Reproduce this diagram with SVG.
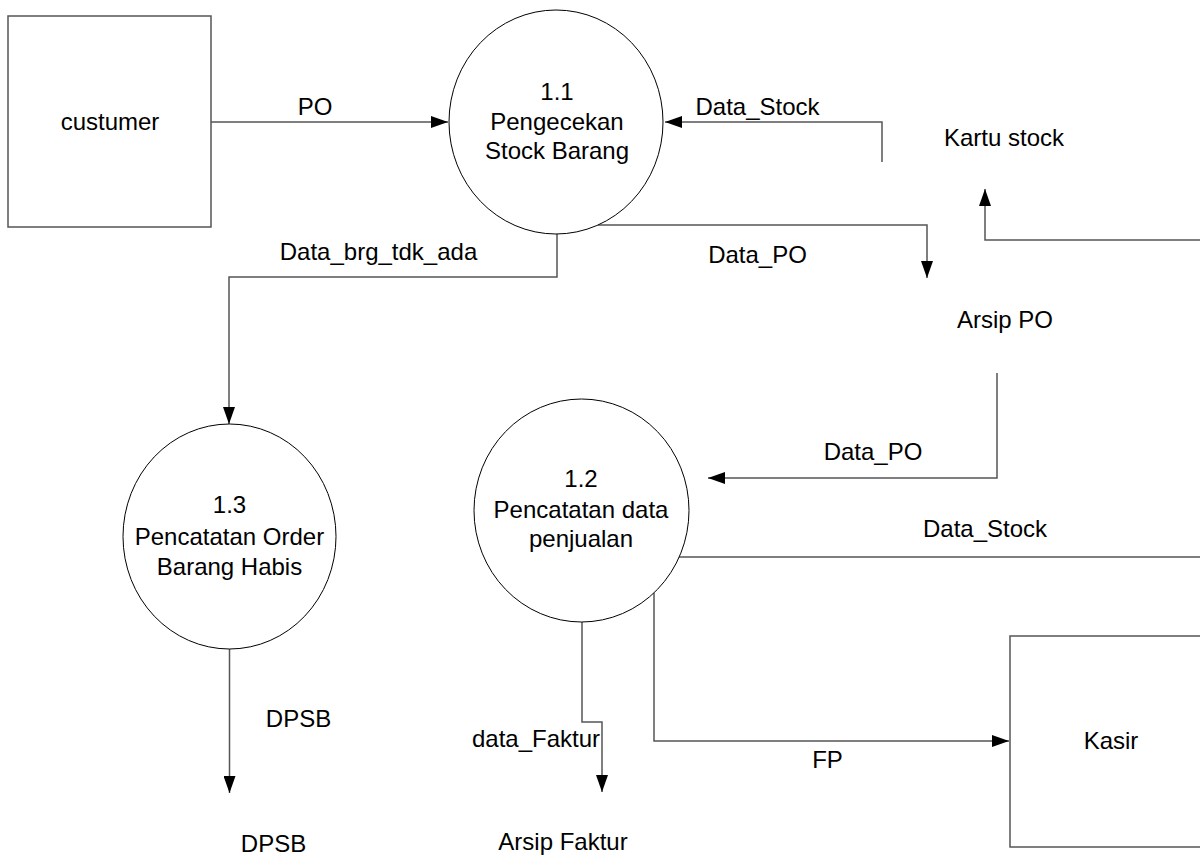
<svg xmlns="http://www.w3.org/2000/svg" width="1200" height="857" viewBox="0 0 1200 857">
<defs>
<style>
.t{font-family:"Liberation Sans",Arial,sans-serif;font-size:24px;fill:#000;text-anchor:middle}
.box{fill:#fff;stroke:#555;stroke-width:1.5}
.proc{fill:#fff;stroke:#000;stroke-width:1}
.ln{fill:none;stroke:#555;stroke-width:1.5}
</style>
<marker id="ah" markerUnits="userSpaceOnUse" markerWidth="17" markerHeight="12" refX="17" refY="6" orient="auto">
<path d="M0,0 L17,6 L0,12 z" fill="#000"/>
</marker>
</defs>
<rect width="1200" height="857" fill="#fff"/>

<g id="connectors">
<path class="ln" d="M211,122 H448" marker-end="url(#ah)"/>
<path class="ln" d="M882,162 V122 H665" marker-end="url(#ah)"/>
<path class="ln" d="M598,225 H927 V278" marker-end="url(#ah)"/>
<path class="ln" d="M1200,240 H985 V189" marker-end="url(#ah)"/>
<path class="ln" d="M557,234 V277 H229 V424" marker-end="url(#ah)"/>
<path class="ln" d="M997,373 V478 H708" marker-end="url(#ah)"/>
<path class="ln" d="M679,557 H1200"/>
<path class="ln" d="M229.5,649 V793" marker-end="url(#ah)"/>
<path class="ln" d="M582,622 V722 H602 V792" marker-end="url(#ah)"/>
<path class="ln" d="M654,593 V741 H1009" marker-end="url(#ah)"/>
<text class="t" x="315" y="115">PO</text>
<text class="t" x="757.5" y="115">Data_Stock</text>
<text class="t" x="378.5" y="260">Data_brg_tdk_ada</text>
<text class="t" x="757.5" y="263">Data_PO</text>
<text class="t" x="873" y="460">Data_PO</text>
<text class="t" x="985" y="537">Data_Stock</text>
<text class="t" x="298.5" y="727">DPSB</text>
<text class="t" x="536" y="747">data_Faktur</text>
<text class="t" x="827.5" y="768">FP</text>
</g>

<g id="custumer">
<rect class="box" x="8" y="16" width="203" height="211"/>
<text class="t" x="110" y="130">custumer</text>
</g>

<g id="kasir">
<rect class="box" x="1010" y="636" width="200" height="211"/>
<text class="t" x="1111" y="749">Kasir</text>
</g>

<g id="p11">
<ellipse class="proc" cx="556" cy="122" rx="107" ry="112"/>
<text class="t" x="557" y="100">1.1</text>
<text class="t" x="557" y="130">Pengecekan</text>
<text class="t" x="557" y="159">Stock Barang</text>
</g>

<g id="p12">
<ellipse class="proc" cx="581.5" cy="510.5" rx="107.5" ry="111.5"/>
<text class="t" x="581" y="487">1.2</text>
<text class="t" x="581" y="518">Pencatatan data</text>
<text class="t" x="581" y="547">penjualan</text>
</g>

<g id="p13">
<ellipse class="proc" cx="229.5" cy="536.5" rx="106.5" ry="112.5"/>
<text class="t" x="229.5" y="513">1.3</text>
<text class="t" x="229.5" y="545">Pencatatan Order</text>
<text class="t" x="229.5" y="575">Barang Habis</text>
</g>

<g id="kartu-stock">
<text class="t" x="1004" y="146">Kartu stock</text>
</g>
<g id="arsip-po">
<text class="t" x="1005" y="328">Arsip PO</text>
</g>
<g id="dpsb">
<text class="t" x="273.5" y="852">DPSB</text>
</g>
<g id="arsip-faktur">
<text class="t" x="563" y="850">Arsip Faktur</text>
</g>
</svg>
